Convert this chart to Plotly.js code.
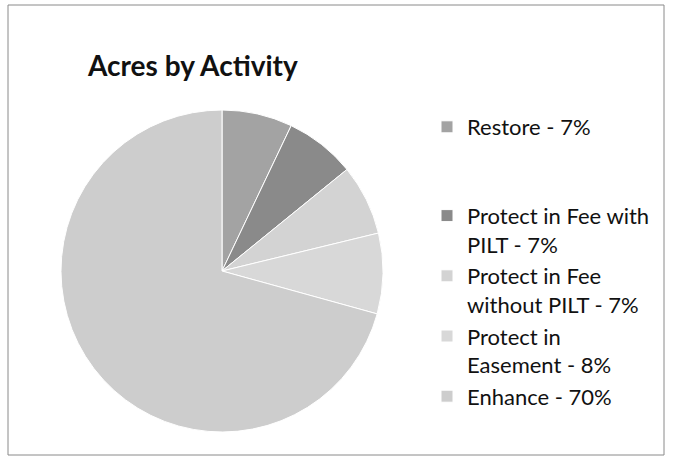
<!DOCTYPE html>
<html>
<head>
<meta charset="utf-8">
<script src="https://cdn.plot.ly/plotly-3.0.1.min.js"></script>
<style>html,body{margin:0;padding:0;background:#fff;}#chart{width:673px;height:463px;}</style>
</head>
<body>
<div id="chart"></div>
<script>
const categories = ["Restore", "Protect in Fee with PILT", "Protect in Fee without PILT", "Protect in Easement", "Enhance"];
const percents = [7, 7, 7, 8, 70];
const legendLines = [
  ["Restore - 7%", " ", " "],
  ["Protect in Fee with", "PILT - 7%"],
  ["Protect in Fee", "without PILT - 7%"],
  ["Protect in", "Easement - 8%"],
  ["Enhance - 70%"]
];
const sliceColors = ["#a3a3a3", "#8a8a8a", "#d3d3d3", "#d8d8d8", "#cdcdcd"];

const labels = legendLines.map(l => l.join("<br>"));

const trace = {
  type: "pie",
  labels: labels,
  values: percents,
  customdata: categories,
  sort: false,
  direction: "clockwise",
  rotation: 0,
  textinfo: "none",
  hoverinfo: "none",
  marker: { colors: sliceColors, line: { color: "#ffffff", width: 1 } },
  domain: { x: [61/673, 383/673], y: [31/463, 353/463] }
};

const layout = {
  width: 673, height: 463,
  margin: { l: 0, r: 0, t: 0, b: 0 },
  paper_bgcolor: "#ffffff",
  font: { family: "Lato, 'Open Sans', sans-serif", color: "#111111" },
  title: {
    text: "<b>Acres by Activity</b>",
    font: { family: "Lato, sans-serif", size: 28, color: "#111111" },
    x: 88/673, xanchor: "left", xref: "paper",
    y: 1 - 66/463, yanchor: "middle", yref: "paper"
  },
  showlegend: true,
  legend: {
    x: 427/673, xanchor: "left",
    y: 1 - 106/463, yanchor: "top",
    valign: "top",
    font: { family: "Lato, sans-serif", size: 22, color: "#111111" },
    bgcolor: "rgba(0,0,0,0)",
    traceorder: "normal"
  },
  shapes: [
    { type: "rect", xref: "paper", yref: "paper",
      x0: 8/673, x1: 664/673, y0: 1 - 455/463, y1: 1 - 5/463,
      line: { color: "#8a8a8a", width: 1 }, fillcolor: "rgba(0,0,0,0)" }
  ]
};

Plotly.newPlot("chart", [trace], layout, { staticPlot: true, displayModeBar: false });
</script>
</body>
</html>
